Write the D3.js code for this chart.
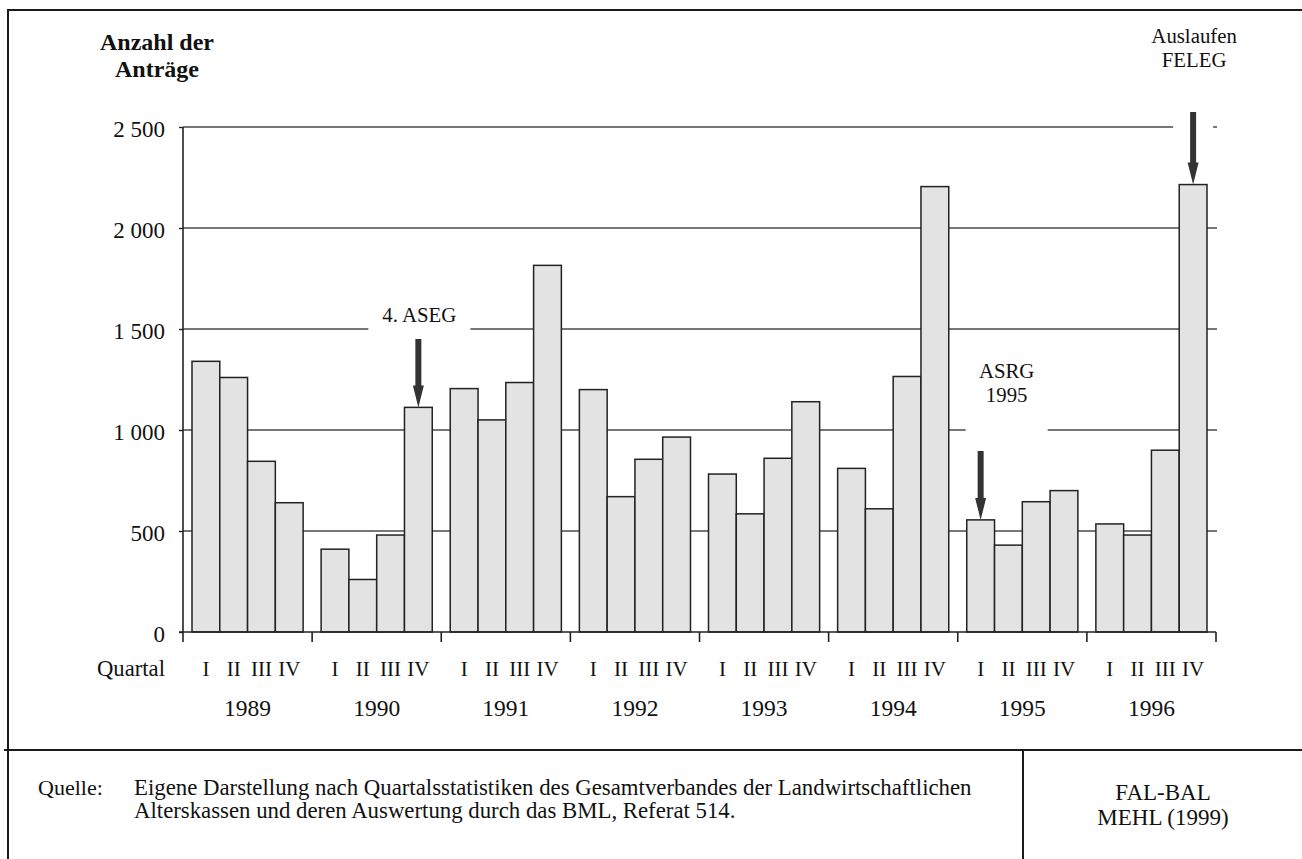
<!DOCTYPE html>
<html><head><meta charset="utf-8">
<script src="https://cdn.jsdelivr.net/npm/d3@7/dist/d3.min.js"></script>
<style>
html,body{margin:0;padding:0;background:#fff;}
svg text{font-family:"Liberation Serif","Times New Roman",serif;fill:#111;}
</style></head>
<body><svg id="c" width="1302" height="859"></svg>
<script>
// ---- data ----
const years = ["1989","1990","1991","1992","1993","1994","1995","1996"];
const quarters = ["I","II","III","IV"];
const v1989 = [1340, 1260, 845, 640];
const v1990 = [410, 260, 480, 1112];
const v1991 = [1205, 1050, 1235, 1815];
const v1992 = [1200, 670, 855, 965];
const v1993 = [782, 585, 860, 1140];
const v1994 = [810, 610, 1265, 2205];
const v1995 = [555, 430, 645, 700];
const v1996 = [535, 480, 900, 2215];
const seriesValues = [v1989, v1990, v1991, v1992, v1993, v1994, v1995, v1996];
const yTicks = [0, 500, 1000, 1500, 2000, 2500];
const yTitle = ["Anzahl der", "Anträge"];
const xTitle = "Quartal";
const annoLabels = [["4. ASEG"], ["ASRG", "1995"], ["Auslaufen", "FELEG"]];
const annoYear = ["1990", "1995", "1996"];
const annoQuarter = ["IV", "I", "IV"];
const sourceLabel = "Quelle:";
const sourceLines = ["Eigene Darstellung nach Quartalsstatistiken des Gesamtverbandes der Landwirtschaftlichen",
                     "Alterskassen und deren Auswertung durch das BML, Referat 514."];
const creditLines = ["FAL-BAL", "MEHL (1999)"];

const data = [];
years.forEach((y, i) => quarters.forEach((q, j) => data.push({year: y, quarter: q, value: seriesValues[i][j]})));

// ---- layout ----
const svg = d3.select("#c");
const X0 = 183, X1 = 1216, Y0 = 632, Y1 = 127;
const x = d3.scaleBand().domain(years).range([X0, X1]).padding(0);
const xq = d3.scaleBand().domain(quarters).range([0, x.bandwidth()]).paddingInner(0).paddingOuter(0.324);
const y = d3.scaleLinear().domain([0, 2500]).range([Y0, Y1]);
const loc = d3.formatLocale({decimal: ",", thousands: "\u2009", grouping: [3], currency: ["", ""]});
const fmt = v => loc.format(",")(v).replace("\u2009", " ");

// frame
const frame = svg.append("g").attr("stroke", "#1a1a1a").attr("stroke-width", 2);
frame.append("line").attr("x1", 8).attr("x2", 8).attr("y1", 9).attr("y2", 859);
frame.append("line").attr("x1", 7).attr("x2", 1302).attr("y1", 10).attr("y2", 10);
frame.append("line").attr("x1", 4).attr("x2", 1302).attr("y1", 750).attr("y2", 750);
frame.append("line").attr("x1", 1023).attr("x2", 1023).attr("y1", 750).attr("y2", 859);

// gridlines (behind bars)
svg.append("g").selectAll("line").data(yTicks.filter(d => d > 0)).join("line")
  .attr("x1", X0).attr("x2", X1 + 1).attr("y1", d => y(d)).attr("y2", d => y(d))
  .attr("stroke", "#4a4a4a").attr("stroke-width", 1.4);

// y axis
const yAxis = d3.axisLeft(y).tickValues(yTicks).tickSize(4).tickPadding(14).tickFormat(fmt);
const gy = svg.append("g").attr("transform", `translate(${X0},0)`).call(yAxis);
gy.select(".domain").remove();
gy.selectAll(".tick line").attr("stroke", "#222").attr("stroke-width", 1.4);
gy.selectAll(".tick text").attr("font-size", 23).attr("font-family", "Liberation Serif").attr("fill", "#111").attr("dy", "0.4em");
svg.append("line").attr("x1", X0).attr("x2", X0).attr("y1", Y1).attr("y2", Y0 + 10).attr("stroke", "#222").attr("stroke-width", 1.6);

// bars
svg.append("g").selectAll("rect").data(data).join("rect")
  .attr("x", d => x(d.year) + xq(d.quarter))
  .attr("width", xq.bandwidth())
  .attr("y", d => y(d.value))
  .attr("height", d => y(0) - y(d.value))
  .attr("fill", "#e3e3e3").attr("stroke", "#222").attr("stroke-width", 1.5);

// x axis baseline with year separators
svg.append("line").attr("x1", X0 - 4).attr("x2", X1).attr("y1", Y0).attr("y2", Y0).attr("stroke", "#222").attr("stroke-width", 1.6);
svg.append("g").selectAll("line").data(years.slice(1).map(yr => x(yr)).concat([X1]))
  .join("line").attr("x1", d => d).attr("x2", d => d).attr("y1", Y0).attr("y2", Y0 + 10)
  .attr("stroke", "#222").attr("stroke-width", 1.6);

// quarter labels
svg.append("g").selectAll("text").data(data).join("text")
  .attr("x", d => x(d.year) + xq(d.quarter) + xq.bandwidth() / 2)
  .attr("y", 676).attr("text-anchor", "middle").attr("font-size", 21).text(d => d.quarter);
svg.append("text").attr("x", 165).attr("y", 676).attr("text-anchor", "end").attr("font-size", 22.7).text(xTitle);
// year labels
svg.append("g").selectAll("text").data(years).join("text")
  .attr("x", d => x(d) + x.bandwidth() / 2).attr("y", 716)
  .attr("text-anchor", "middle").attr("font-size", 23.5).text(d => d);

// y title
svg.append("g").selectAll("text").data(yTitle).join("text")
  .attr("x", 157).attr("y", (d, i) => 50 + i * 27).attr("text-anchor", "middle")
  .attr("font-size", 24).attr("font-weight", "bold").text(d => d);

// annotations
const annoGrid = [1500, 1000, 2500];
const maskW = [102, 82, 40];
const maskDx = [1, 26, 0];
const textDx = [1, 26, 1];
const textBaseDy = [-7, -28, -60];
const arrowTop = [339, 451, 112];
annoLabels.forEach((lines, i) => {
  const d = data.find(e => e.year === annoYear[i] && e.quarter === annoQuarter[i]);
  const cx = x(d.year) + xq(d.quarter) + xq.bandwidth() / 2;
  const gyv = y(annoGrid[i]);
  svg.append("rect").attr("x", cx + maskDx[i] - maskW[i] / 2).attr("y", gyv - 3).attr("width", maskW[i]).attr("height", 6).attr("fill", "#fff");
  const n = lines.length;
  lines.forEach((t, k) => {
    svg.append("text").attr("x", cx + textDx[i]).attr("y", gyv + textBaseDy[i] - (n - 1 - k) * 24)
      .attr("text-anchor", "middle").attr("font-size", 20.8).text(t);
  });
  const tip = y(d.value);
  const headLen = 22, headW = 11, shaftW = 6;
  svg.append("rect").attr("x", cx - shaftW / 2).attr("y", arrowTop[i]).attr("width", shaftW).attr("height", tip - headLen - arrowTop[i] + 1).attr("fill", "#333");
  svg.append("path").attr("d", `M${cx - headW / 2},${tip - headLen} L${cx + headW / 2},${tip - headLen} L${cx},${tip} Z`).attr("fill", "#333");
});

// source area
svg.append("text").attr("x", 38).attr("y", 795).attr("font-size", 22).text(sourceLabel);
svg.append("g").selectAll("text").data(sourceLines).join("text")
  .attr("x", 134).attr("y", (d, i) => 795 + i * 23).attr("font-size", 22.8).text(d => d);
svg.append("g").selectAll("text").data(creditLines).join("text")
  .attr("x", 1163).attr("y", (d, i) => 800 + i * 25).attr("text-anchor", "middle").attr("font-size", 23).text(d => d);
</script></body></html>
